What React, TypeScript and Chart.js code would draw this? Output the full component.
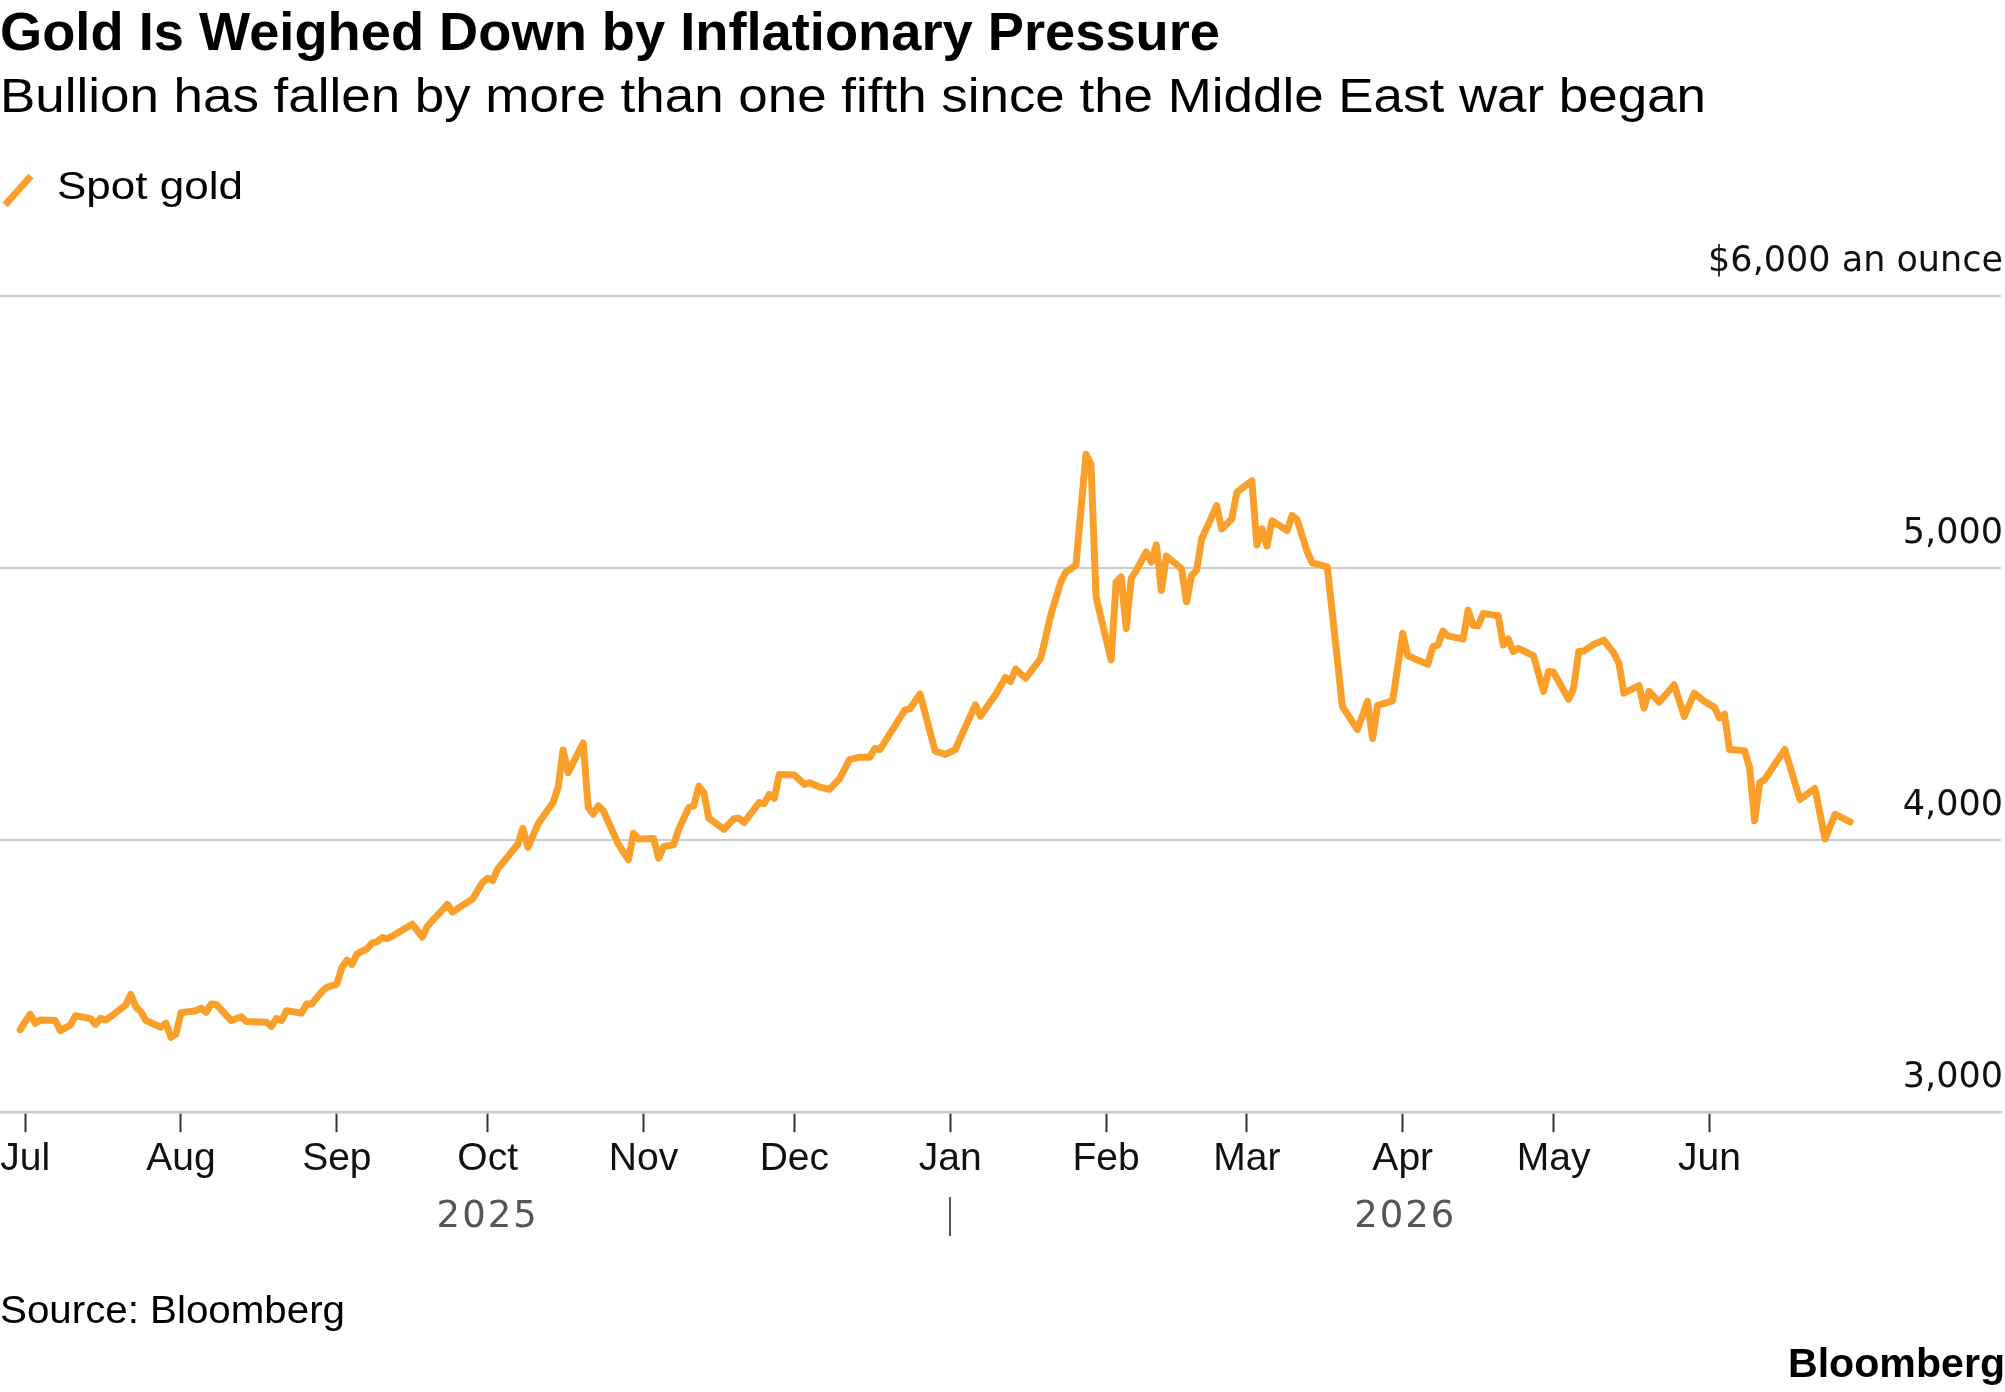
import { useEffect, useRef } from "react";
import { Chart, registerables } from "chart.js";

Chart.register(...registerables);

// ---- Text ----
const TITLE = "Gold Is Weighed Down by Inflationary Pressure";
const SUBTITLE = "Bullion has fallen by more than one fifth since the Middle East war began";
const SERIES_LABEL = "Spot gold";
const SOURCE = "Source: Bloomberg";
const BRAND = "Bloomberg";

// ---- Series: spot gold, $ an ounce ----
const dates = [
  "2025-06-30", "2025-07-02", "2025-07-03", "2025-07-04", "2025-07-07", "2025-07-08", "2025-07-10", "2025-07-11",
  "2025-07-14", "2025-07-15", "2025-07-16", "2025-07-17", "2025-07-18", "2025-07-21", "2025-07-22", "2025-07-23",
  "2025-07-24", "2025-07-25", "2025-07-28", "2025-07-29", "2025-07-30", "2025-07-31", "2025-08-01", "2025-08-04",
  "2025-08-05", "2025-08-06", "2025-08-07", "2025-08-08", "2025-08-11", "2025-08-13", "2025-08-14", "2025-08-18",
  "2025-08-19", "2025-08-20", "2025-08-21", "2025-08-22", "2025-08-23", "2025-08-25", "2025-08-26", "2025-08-27",
  "2025-08-29", "2025-08-30", "2025-09-01", "2025-09-02", "2025-09-03", "2025-09-04", "2025-09-05", "2025-09-07",
  "2025-09-08", "2025-09-09", "2025-09-10", "2025-09-11", "2025-09-12", "2025-09-16", "2025-09-18", "2025-09-19",
  "2025-09-23", "2025-09-24", "2025-09-26", "2025-09-28", "2025-09-30", "2025-10-01", "2025-10-02", "2025-10-03",
  "2025-10-07", "2025-10-08", "2025-10-09", "2025-10-11", "2025-10-14", "2025-10-15", "2025-10-16", "2025-10-17",
  "2025-10-20", "2025-10-21", "2025-10-22", "2025-10-23", "2025-10-24", "2025-10-27", "2025-10-29", "2025-10-30",
  "2025-10-31", "2025-11-03", "2025-11-04", "2025-11-05", "2025-11-07", "2025-11-08", "2025-11-10", "2025-11-11",
  "2025-11-12", "2025-11-13", "2025-11-14", "2025-11-17", "2025-11-19", "2025-11-20", "2025-11-21", "2025-11-24",
  "2025-11-25", "2025-11-26", "2025-11-27", "2025-11-28", "2025-12-01", "2025-12-03", "2025-12-04", "2025-12-06",
  "2025-12-08", "2025-12-10", "2025-12-12", "2025-12-14", "2025-12-16", "2025-12-17", "2025-12-18", "2025-12-23",
  "2025-12-24", "2025-12-26", "2025-12-29", "2025-12-31", "2026-01-02", "2026-01-06", "2026-01-07", "2026-01-10",
  "2026-01-12", "2026-01-13", "2026-01-14", "2026-01-16", "2026-01-19", "2026-01-21", "2026-01-23", "2026-01-24",
  "2026-01-26", "2026-01-28", "2026-01-29", "2026-01-30", "2026-02-02", "2026-02-03", "2026-02-04", "2026-02-05",
  "2026-02-06", "2026-02-07", "2026-02-09", "2026-02-10", "2026-02-11", "2026-02-12", "2026-02-13", "2026-02-16",
  "2026-02-17", "2026-02-18", "2026-02-19", "2026-02-20", "2026-02-23", "2026-02-24", "2026-02-26", "2026-02-27",
  "2026-02-28", "2026-03-02", "2026-03-03", "2026-03-04", "2026-03-05", "2026-03-06", "2026-03-09", "2026-03-10",
  "2026-03-11", "2026-03-13", "2026-03-14", "2026-03-17", "2026-03-20", "2026-03-23", "2026-03-25", "2026-03-26",
  "2026-03-27", "2026-03-30", "2026-04-01", "2026-04-02", "2026-04-06", "2026-04-07", "2026-04-08", "2026-04-09",
  "2026-04-10", "2026-04-13", "2026-04-14", "2026-04-15", "2026-04-16", "2026-04-17", "2026-04-20", "2026-04-21",
  "2026-04-22", "2026-04-23", "2026-04-24", "2026-04-27", "2026-04-29", "2026-04-30", "2026-05-01", "2026-05-04",
  "2026-05-05", "2026-05-06", "2026-05-07", "2026-05-09", "2026-05-11", "2026-05-13", "2026-05-14", "2026-05-15",
  "2026-05-18", "2026-05-19", "2026-05-20", "2026-05-22", "2026-05-25", "2026-05-27", "2026-05-29", "2026-05-31",
  "2026-06-02", "2026-06-03", "2026-06-04", "2026-06-05", "2026-06-08", "2026-06-09", "2026-06-10", "2026-06-11",
  "2026-06-12", "2026-06-16", "2026-06-19", "2026-06-22", "2026-06-24", "2026-06-26", "2026-06-29",
];

const prices = [
  3303, 3360, 3327, 3339, 3337, 3300, 3320, 3355,
  3344, 3323, 3345, 3339, 3351, 3394, 3433, 3388,
  3370, 3337, 3312, 3327, 3275, 3287, 3366, 3373,
  3382, 3367, 3398, 3396, 3337, 3351, 3333, 3331,
  3315, 3345, 3337, 3373, 3370, 3364, 3398, 3398,
  3443, 3459, 3471, 3532, 3559, 3543, 3581, 3601,
  3622, 3626, 3642, 3638, 3647, 3691, 3644, 3684,
  3764, 3736, 3760, 3784, 3845, 3860, 3851, 3894,
  3985, 4043, 3973, 4059, 4138, 4193, 4331, 4248,
  4357, 4120, 4095, 4126, 4108, 3985, 3928, 4025,
  4004, 4006, 3934, 3976, 3983, 4040, 4120, 4126,
  4199, 4174, 4080, 4040, 4079, 4080, 4065, 4138,
  4134, 4168, 4154, 4241, 4239, 4205, 4211, 4195,
  4187, 4226, 4296, 4305, 4305, 4337, 4333, 4479,
  4483, 4537, 4327, 4315, 4333, 4497, 4455, 4534,
  4598, 4583, 4629, 4595, 4668, 4827, 4949, 4985,
  5010, 5418, 5382, 4894, 4662, 4949, 4967, 4778,
  4961, 4991, 5059, 5022, 5085, 4918, 5044, 4998,
  4876, 4973, 4991, 5107, 5229, 5144, 5180, 5278,
  5293, 5321, 5085, 5144, 5081, 5174, 5138, 5193,
  5178, 5060, 5019, 5004, 4492, 4406, 4510, 4373,
  4495, 4512, 4760, 4678, 4646, 4711, 4717, 4768,
  4751, 4739, 4845, 4790, 4788, 4833, 4825, 4717,
  4739, 4693, 4705, 4678, 4547, 4620, 4617, 4518,
  4559, 4693, 4695, 4720, 4735, 4687, 4650, 4540,
  4568, 4485, 4547, 4507, 4571, 4455, 4540, 4510,
  4488, 4449, 4463, 4333, 4329, 4266, 4071, 4211,
  4223, 4333, 4150, 4190, 4004, 4095, 4067,
];

// ---- Axes ----
const monthTicks = [
  "2025-07-01", "2025-08-01", "2025-09-01", "2025-10-01", "2025-11-01", "2025-12-01",
  "2026-01-01", "2026-02-01", "2026-03-01", "2026-04-01", "2026-05-01", "2026-06-01",
];
const monthLabels = ["Jul", "Aug", "Sep", "Oct", "Nov", "Dec", "Jan", "Feb", "Mar", "Apr", "May", "Jun"];
const years = ["2025", "2026"];
const yearSpans = [
  ["2025-07-01", "2026-01-01"],
  ["2026-01-01", "2026-07-01"],
];
const yearBreak = "2026-01-01";
const xRange = ["2025-06-26", "2026-07-29"];

const yTicks = [3000, 4000, 5000, 6000];
const yTickLabels = ["3,000", "4,000", "5,000", "$6,000 an ounce"];

// ---- Style ----
const ORANGE = "#FAA02A";
const GRID = "#cccccc";
const SANS = '"Liberation Sans", Arial, sans-serif';
const WIDE = '"DejaVu Sans", sans-serif';

const EPOCH = Date.UTC(2025, 6, 1);
function dayIndex(iso: string): number {
  const [y, m, d] = iso.split("-").map(Number);
  return (Date.UTC(y, m - 1, d) - EPOCH) / 86400000;
}

// Draws text squeezed or stretched horizontally so it spans the given width.
function fitText(
  ctx: CanvasRenderingContext2D,
  text: string,
  x: number,
  y: number,
  font: string,
  width: number,
  align: CanvasTextAlign,
  color = "#000"
) {
  ctx.save();
  ctx.font = font;
  ctx.fillStyle = color;
  ctx.textBaseline = "alphabetic";
  ctx.textAlign = align;
  const natural = ctx.measureText(text).width;
  ctx.translate(x, y);
  ctx.scale(width / natural, 1);
  ctx.fillText(text, 0, 0);
  ctx.restore();
}

const decorations = {
  id: "decorations",
  afterDraw(chart: any) {
    const { ctx } = chart;
    const xs = chart.scales.x;
    const ds = chart.data.datasets[0];

    // headline block
    fitText(ctx, TITLE, 0, 50, `bold 53px ${SANS}`, 1220, "left");
    fitText(ctx, SUBTITLE, 0, 112, `49px ${SANS}`, 1706, "left");

    // legend
    ctx.save();
    ctx.strokeStyle = ds.borderColor;
    ctx.lineWidth = 7;
    ctx.lineCap = "butt";
    ctx.beginPath();
    ctx.moveTo(5, 205);
    ctx.lineTo(31, 176);
    ctx.stroke();
    ctx.restore();
    fitText(ctx, ds.label, 57, 199, `39px ${SANS}`, 186, "left");

    // year row under the month labels
    ctx.save();
    ctx.font = `37px ${WIDE}`;
    ctx.fillStyle = "#555";
    ctx.textAlign = "center";
    ctx.textBaseline = "alphabetic";
    (ctx as any).letterSpacing = "2px";
    years.forEach((yr, i) => {
      const a = xs.getPixelForValue(dayIndex(yearSpans[i][0]));
      const b = xs.getPixelForValue(dayIndex(yearSpans[i][1]));
      ctx.fillText(yr, (a + b) / 2, 1227);
    });
    const bx = Math.round(xs.getPixelForValue(dayIndex(yearBreak)));
    ctx.strokeStyle = "#555";
    ctx.lineWidth = 2;
    ctx.beginPath();
    ctx.moveTo(bx, 1197);
    ctx.lineTo(bx, 1236);
    ctx.stroke();
    ctx.restore();

    // footer
    fitText(ctx, SOURCE, 0, 1323, `39px ${SANS}`, 345, "left");
    fitText(ctx, BRAND, 2005, 1377, `bold 40px ${SANS}`, 217, "right");
  },
};

export default function App() {
  const canvasRef = useRef<HTMLCanvasElement>(null);

  useEffect(() => {
    document.body.style.margin = "0";
    const canvas = canvasRef.current;
    if (!canvas) return;

    const points = dates.map((d, i) => ({ x: dayIndex(d), y: prices[i] }));

    const chart = new Chart(canvas, {
      type: "line",
      data: {
        datasets: [
          {
            label: SERIES_LABEL,
            data: points,
            borderColor: ORANGE,
            borderWidth: 7,
            borderJoinStyle: "round",
            borderCapStyle: "round",
            pointRadius: 0,
            tension: 0,
            fill: false,
          },
        ],
      },
      options: {
        animation: false,
        responsive: false,
        devicePixelRatio: 1,
        layout: { padding: { top: 296, left: 0, right: 0, bottom: 205 } },
        plugins: {
          legend: { display: false },
          title: { display: false },
          tooltip: { enabled: false },
        },
        scales: {
          x: {
            type: "linear",
            min: dayIndex(xRange[0]),
            max: dayIndex(xRange[1]),
            afterBuildTicks: (scale: any) => {
              scale.ticks = monthTicks.map((d) => ({ value: dayIndex(d) }));
            },
            // let the plot run edge to edge; the first month label sits near the left border
            afterFit: (scale: any) => {
              scale.paddingLeft = 0;
              scale.paddingRight = 0;
            },
            grid: {
              display: true,
              drawOnChartArea: false,
              drawTicks: true,
              tickLength: 20,
              tickColor: "#333",
              tickWidth: 2,
            },
            border: { display: true, color: GRID, width: 2.5 },
            ticks: {
              autoSkip: false,
              maxRotation: 0,
              padding: 4,
              color: "#111",
              font: { family: SANS, size: 39 },
              callback: (_v: any, i: number) => monthLabels[i],
            },
          },
          y: {
            type: "linear",
            position: "right",
            min: yTicks[0],
            max: yTicks[yTicks.length - 1],
            afterBuildTicks: (scale: any) => {
              scale.ticks = yTicks.map((v) => ({ value: v }));
            },
            grid: { color: GRID, lineWidth: 2, drawTicks: false },
            border: { display: false },
            ticks: {
              mirror: true,
              padding: 2,
              labelOffset: -34,
              color: "#111",
              font: { family: WIDE, size: 35 },
              callback: (_v: any, i: number) => yTickLabels[i],
            },
          },
        },
      },
      plugins: [decorations],
    });

    return () => chart.destroy();
  }, []);

  return (
    <div style={{ width: 2005, height: 1392, background: "#fff" }}>
      <canvas ref={canvasRef} width={2005} height={1392} style={{ display: "block", width: 2005, height: 1392 }} />
    </div>
  );
}
